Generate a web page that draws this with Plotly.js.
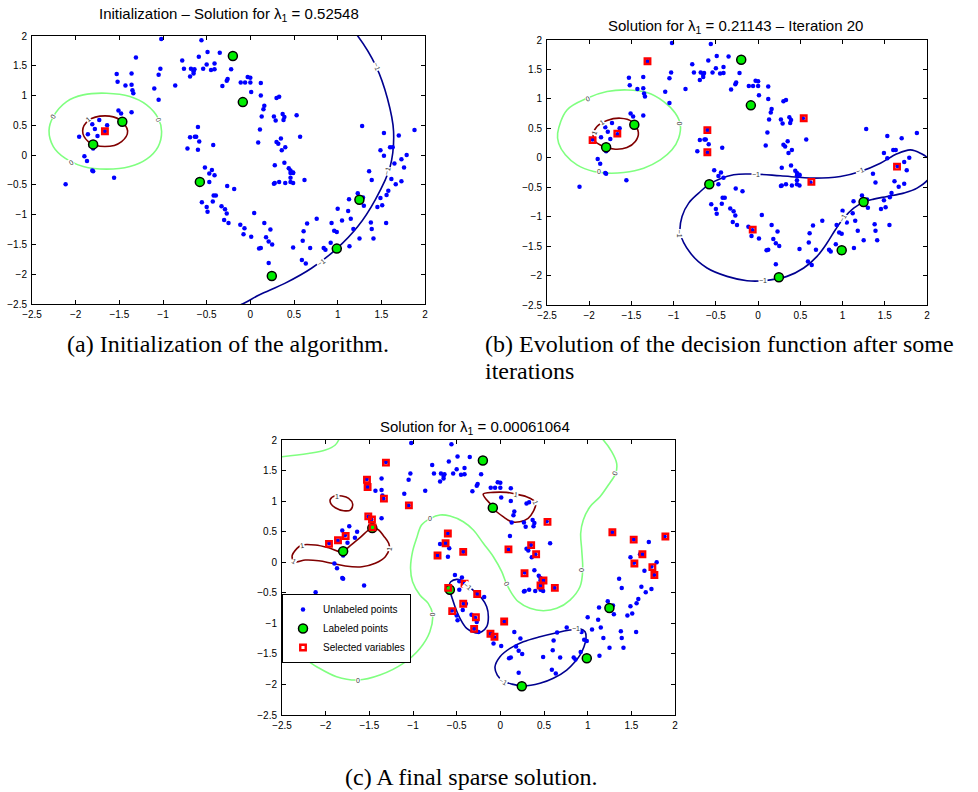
<!DOCTYPE html>
<html>
<head>
<meta charset="utf-8">
<script src="https://cdn.plot.ly/plotly-3.0.1.min.js"></script>
<style>html,body{margin:0;padding:0;background:#fff;}#chart{width:978px;height:792px;}</style>
</head>
<body>
<div id="chart"></div>
<script>
// ---------- data: unlabeled points (same data set in all three panels) ----------
const unlabX = [-1.02,-0.56,-1.31,-0.49,-0.35,-0.59,-0.78,-0.76,-1.03,-1.05,-1.53,-1.36,-1.52,-1.43,-1.36,-1.35,-1.34,-1.10,-1.05,-0.86,-0.68,-0.65,-0.64,-0.69,-0.65,-0.50,-0.41,-0.45,-0.41,-0.22,-0.26,-0.27,-0.32,-0.54,
-0.11,-0.06,-0.03,0.00,0.00,0.01,0.12,0.12,0.30,0.33,0.16,0.15,0.13,0.27,0.29,0.37,0.39,0.38,0.53,0.57,0.11,0.09,0.30,0.32,0.35,0.40,0.36,0.28,0.39,0.44,0.46,0.49,0.46,0.49,0.27,0.28,0.33,0.40,0.46,0.49,0.62,
-0.60,-0.69,-0.635,-0.62,-0.585,-0.72,-0.60,-0.425,-0.52,-0.44,-0.47,-0.41,-0.47,-0.265,-0.185,-0.555,-0.50,-0.49,-0.42,-0.395,-0.43,-0.33,-0.29,-0.27,-0.30,-0.25,-0.115,-0.067,-0.078,0.01,0.044,0.16,0.23,0.18,0.21,0.25,0.10,0.12,0.21,0.49,0.60,0.61,0.65,0.76,0.59,0.635,0.685,0.84,0.86,0.92,0.93,1.00,0.96,0.99,1.05,1.12,1.13,1.15,1.18,1.135,1.25,1.23,1.30,1.29,1.36,1.39,1.28,1.38,1.39,1.41,1.455,1.51,1.555,1.53,1.49,1.53,1.60,1.63,1.65,1.70,1.73,1.79,1.76,1.73,1.88,1.615,1.665,1.58,1.56,1.49,
-2.115,-1.96,-1.90,-1.87,-1.81,-1.80,-1.56,-1.81,-1.73,-1.78,-1.86,-1.75,-1.64,-1.80,-1.51,-1.48,-1.36,-1.665,-0.60,0.46];
const unlabY = [1.95,1.93,1.64,1.73,1.72,1.65,1.59,1.45,1.45,1.35,1.36,1.37,1.23,1.17,1.18,1.09,1.04,1.12,0.93,1.17,1.45,1.41,1.44,1.32,1.37,1.52,1.54,1.43,1.44,1.44,1.28,1.25,1.16,1.45,
1.22,1.22,1.31,1.30,1.22,1.06,1.21,1.00,0.96,0.98,0.83,0.77,0.65,0.65,0.58,0.69,0.64,0.59,0.67,0.31,0.43,0.21,0.22,0.19,0.28,0.13,0.08,-0.17,-0.13,-0.22,-0.26,-0.29,-0.30,-0.30,-0.48,-0.47,-0.45,-0.47,-0.45,-0.47,-0.42,
0.47,0.30,0.31,0.31,0.23,0.11,0.09,0.17,-0.21,-0.25,-0.31,-0.34,-0.45,-0.52,-0.57,-0.79,-0.87,-0.95,-0.68,-0.68,-0.78,-0.86,-0.91,-0.98,-1.09,-1.14,-1.17,-1.23,-1.33,-1.37,-0.97,-1.14,-1.25,-1.38,-1.45,-1.50,-1.57,-1.56,-1.81,-1.55,-1.44,-1.28,-1.15,-1.07,-1.76,-1.82,-1.56,-1.56,-1.59,-1.47,-1.14,-0.90,-1.27,-1.29,-1.10,-0.94,-0.74,-1.07,-1.24,-1.53,-1.40,-0.64,-0.85,-0.71,-0.27,-0.42,0.49,-1.13,-1.24,-1.40,-0.87,-0.84,-1.14,0.37,0.08,-0.01,0.13,0.13,-0.14,0.33,-0.07,0.00,-0.21,-0.44,0.42,-0.40,-0.49,-0.60,-0.67,-0.72,
-0.49,0.31,-0.02,-0.10,-0.26,-0.27,-0.38,0.52,0.59,0.44,0.35,0.32,0.50,0.11,0.75,0.70,0.72,0.40,-0.42,-0.38];

// labeled points
const labX = [-0.20,-0.086,-1.466,-1.80,-0.578,1.249,0.99,0.246];
const labY = [1.665,0.89,0.56,0.18,-0.45,-0.75,-1.57,-2.03];

// selected variables per panel
const selAX = [-1.665];
const selAY = [0.40];
const selBX = [-1.31,-1.96,-1.667,-0.601,-0.601,0.54,0.631,-0.064,1.645];
const selBY = [1.64,0.30,0.41,0.47,0.095,0.67,-0.41,-1.22,-0.15];
const selCX = [-1.31,-1.527,-1.52,-1.333,-1.047,-1.512,-1.47,-1.463,-1.771,-1.859,-1.962,-0.601,-0.627,-0.719,-0.425,-0.597,-0.41,-0.265,-0.425,-0.551,-0.28,-0.30,-0.113,-0.067,0.044,0.54,0.093,0.353,0.41,0.277,0.494,0.46,0.624,1.283,1.527,1.627,1.535,1.741,1.764,1.89];
const selCY = [1.63,1.35,1.23,1.04,0.93,0.75,0.70,0.57,0.43,0.36,0.30,0.47,0.31,0.11,0.17,-0.42,-0.35,-0.52,-0.68,-0.80,-0.90,-1.09,-1.17,-1.22,-0.97,0.66,0.21,0.28,0.13,-0.18,-0.30,-0.38,-0.42,0.49,0.37,0.13,-0.02,-0.08,-0.21,0.42];

// ---------- contour lines ----------
// panel (a)
const aZeroX = [-2.305,-2.256,-2.103,-1.913,-1.646,-1.379,-1.188,-1.055,-1.016,-1.055,-1.188,-1.379,-1.646,-1.913,-2.122,-2.256,-2.305];
const aZeroY = [0.413,0.647,0.899,1.011,1.039,0.983,0.843,0.619,0.396,0.144,-0.068,-0.191,-0.236,-0.191,-0.051,0.144,0.413];
const aOneX = [-1.92,-1.855,-1.665,-1.493,-1.405,-1.474,-1.665,-1.855,-1.92];
const aOneY = [0.407,0.58,0.658,0.591,0.407,0.228,0.144,0.228,0.407];
const aNegX = [1.106,1.23,1.44,1.57,1.64,1.60,1.43,1.23,0.99,0.70,0.40,0.10,-0.09,-0.285];
const aNegY = [2.2,2.0,1.49,0.95,0.40,-0.20,-0.75,-1.20,-1.57,-1.90,-2.15,-2.35,-2.50,-2.6];
// panel (b)
const bZeroX = [-2.374,-2.263,-2.026,-1.789,-1.553,-1.316,-1.118,-0.98,-0.921,-0.941,-1.02,-1.158,-1.355,-1.592,-1.789,-1.947,-2.145,-2.283,-2.362,-2.374];
const bZeroY = [0.417,0.813,1.011,1.124,1.152,1.107,0.954,0.756,0.558,0.332,0.135,-0.035,-0.176,-0.25,-0.261,-0.233,-0.12,0.05,0.248,0.417];
const bOneX = [-1.955,-1.908,-1.789,-1.631,-1.493,-1.418,-1.454,-1.553,-1.691,-1.829,-1.928,-1.955];
const bOneY = [0.389,0.530,0.632,0.672,0.615,0.429,0.276,0.174,0.146,0.191,0.276,0.389];
const bNegX = [-0.577,-0.289,-0.033,0.264,0.658,0.974,1.211,1.448,1.645,1.803,1.922,2.03,2.03,1.882,1.724,1.527,1.369,1.25,1.132,1.014,0.915,0.816,0.698,0.54,0.342,0.066,-0.131,-0.368,-0.605,-0.802,-0.921,-0.901,-0.822,-0.704,-0.577];
const bNegY = [-0.448,-0.289,-0.278,-0.306,-0.346,-0.318,-0.233,-0.092,0.067,0.135,0.078,-0.04,-0.33,-0.516,-0.6,-0.657,-0.702,-0.753,-0.855,-1.024,-1.222,-1.448,-1.674,-1.872,-2.014,-2.087,-2.087,-2.014,-1.872,-1.618,-1.279,-0.996,-0.77,-0.6,-0.448];
// panel (c)
const cZero1X = [-2.6,-2.5,-2.2,-2.004,-1.89,-1.851,-1.835];
const cZero1Y = [1.715,1.727,1.78,1.836,1.918,2.0,2.08];
const cZero2X = [-2.6,-2.5,-2.332,-2.103,-1.875,-1.630,-1.379,-1.112,-0.921,-0.807,-0.776,-0.826,-0.921,-1.005,-1.028,-1.005,-0.959,-0.902,-0.799,-0.691,-0.576,-0.424,-0.309,-0.195,-0.08,0.016,0.065,0.13,0.206,0.34,0.492,0.646,0.798,0.912,0.943,0.932,0.92,0.95,1.027,1.141,1.237,1.321,1.332,1.275,1.179,1.12];
const cZero2Y = [-1.29,-1.344,-1.492,-1.71,-1.873,-1.928,-1.846,-1.655,-1.41,-1.137,-0.848,-0.673,-0.537,-0.319,-0.1,0.172,0.391,0.609,0.718,0.773,0.756,0.663,0.527,0.309,0.09,-0.155,-0.335,-0.509,-0.646,-0.755,-0.794,-0.755,-0.619,-0.401,-0.139,0.2,0.473,0.691,0.908,1.072,1.264,1.454,1.618,1.809,2.0,2.08];
const cOne1X = [-1.947,-1.89,-1.813,-1.737,-1.691,-1.718,-1.794,-1.89,-1.939,-1.947];
const cOne1Y = [1.029,1.088,1.083,1.045,0.953,0.854,0.843,0.892,0.953,1.029];
const cOne2X = [-2.385,-2.328,-2.271,-2.119,-1.965,-1.813,-1.718,-1.603,-1.469,-1.393,-1.336,-1.278,-1.271,-1.317,-1.432,-1.584,-1.775,-1.927,-2.08,-2.233,-2.348,-2.385];
const cOne2Y = [0.09,0.227,0.281,0.281,0.237,0.172,0.27,0.407,0.56,0.527,0.429,0.309,0.227,0.09,-0.018,-0.074,-0.062,-0.018,0.025,0.036,0.008,0.09];
const cOne3X = [-0.196,-0.082,0.071,0.177,0.299,0.376,0.406,0.376,0.318,0.223,0.128,0.032,-0.063,-0.12,-0.177,-0.196];
const cOne3Y = [1.116,1.143,1.143,1.116,1.073,1.018,0.963,0.827,0.718,0.663,0.663,0.745,0.854,0.963,1.056,1.116];
const cNeg1X = [-0.584,-0.568,-0.5,-0.424,-0.367,-0.29,-0.213,-0.156,-0.137,-0.156,-0.213,-0.29,-0.385,-0.462,-0.519,-0.557,-0.584,-0.584];
const cNeg1Y = [-0.373,-0.319,-0.28,-0.308,-0.39,-0.483,-0.591,-0.728,-0.892,-1.055,-1.137,-1.153,-1.082,-0.918,-0.728,-0.564,-0.444,-0.373];
const cNeg2X = [-0.061,-0.004,0.111,0.263,0.454,0.646,0.798,0.912,0.97,0.981,0.958,0.912,0.855,0.76,0.607,0.454,0.263,0.13,0.034,-0.035,-0.061];
const cNeg2Y = [-1.71,-1.546,-1.409,-1.301,-1.219,-1.153,-1.11,-1.088,-1.137,-1.246,-1.382,-1.519,-1.628,-1.764,-1.9,-1.982,-2.026,-1.993,-1.944,-1.846,-1.71];

// contour level labels
const aLabX = [-2.26,-1.05,-2.05,-1.86,1.45,1.57,0.81];
const aLabY = [0.65,0.60,-0.12,0.60,1.49,-0.26,-1.80];
const aLabT = ['0','0','0','1','-1','-1','-1'];
const aLabA = [-60,70,-30,-40,70,-75,-35];
const bLabX = [-2.01,-0.93,-1.88,-1.85,-1.94,-0.03,1.21,1.01,0.06,-0.93];
const bLabY = [1.00,0.59,-0.24,0.60,0.43,-0.29,-0.22,-1.02,-2.09,-1.28];
const bLabT = ['0','0','0','1','1','-1','-1','-1','-1','-1'];
const bLabA = [-20,90,0,-30,-70,0,-20,-60,0,90];
const cLabX = [-0.80,1.31,0.936,0.071,-0.776,-1.63,-1.875,-2.27,-2.36,-1.27,0.177,0.40,-0.37,0.87,0.03];
const cLabY = [0.718,1.454,-0.128,-0.346,-0.848,-1.928,1.083,0.28,0.01,0.227,1.116,0.97,-0.39,-1.09,-1.955];
const cLabT = ['0','0','0','0','0','0','1','1','1','1','1','1','-1','-1','-1'];
const cLabA = [0,-70,90,60,90,0,0,-10,30,-80,10,70,40,0,30];

// ticks
const tickVals = [-2.5,-2,-1.5,-1,-0.5,0,0.5,1,1.5,2];
const tickText = ['\u22122.5','\u22122','\u22121.5','\u22121','\u22120.5','0','0.5','1','1.5','2'];

// titles & captions
const titles = ['Initialization \u2013 Solution for \u03bb<sub>1</sub> = 0.52548',
                'Solution for \u03bb<sub>1</sub> = 0.21143 \u2013 Iteration 20',
                'Solution for \u03bb<sub>1</sub> = 0.00061064'];
const captions = ['(a) Initialization of the algorithm.',
                  '(b) Evolution of the decision function after some',
                  'iterations',
                  '(c) A final sparse solution.'];
const legendNames = ['Unlabeled points','Labeled points','Selected variables'];

// ---------- styling ----------
const SANS = 'Liberation Sans, Arial, Helvetica, sans-serif';
const SERIF = 'Liberation Serif, Times New Roman, serif';
const COL_NEG = 'rgb(0,0,143)', COL_ZERO = 'rgb(128,255,128)', COL_ONE = 'rgb(128,0,0)';
const W = 978, H = 792;

const traces = [];
function contour(xs, ys, color, xa, ya) {
  traces.push({type:'scatter', mode:'lines', x:xs, y:ys, xaxis:xa, yaxis:ya,
    line:{color:color, width:1.6, shape:'spline', smoothing:1}, showlegend:false, hoverinfo:'skip'});
}
function points(xa, ya, selX, selY, legend) {
  traces.push({type:'scatter', mode:'markers', x:unlabX, y:unlabY, xaxis:xa, yaxis:ya, name:legendNames[0],
    marker:{color:'#0000ff', size:4.5, symbol:'circle'}, showlegend:legend});
  traces.push({type:'scatter', mode:'markers', x:labX, y:labY, xaxis:xa, yaxis:ya, name:legendNames[1],
    marker:{color:'#00ee00', size:9, symbol:'circle', line:{color:'black', width:1.5}}, showlegend:legend});
  traces.push({type:'scatter', mode:'markers', x:selX, y:selY, xaxis:xa, yaxis:ya, name:legendNames[2],
    marker:{color:'#ff0000', size:5.5, symbol:'square-open', line:{color:'#ff0000', width:2.4}}, showlegend:legend});
}

// panel a
contour(aZeroX, aZeroY, COL_ZERO, 'x', 'y');
contour(aOneX, aOneY, COL_ONE, 'x', 'y');
contour(aNegX, aNegY, COL_NEG, 'x', 'y');
points('x', 'y', selAX, selAY, false);
// panel b
contour(bZeroX, bZeroY, COL_ZERO, 'x2', 'y2');
contour(bOneX, bOneY, COL_ONE, 'x2', 'y2');
contour(bNegX, bNegY, COL_NEG, 'x2', 'y2');
points('x2', 'y2', selBX, selBY, false);
// panel c
contour(cZero1X, cZero1Y, COL_ZERO, 'x3', 'y3');
contour(cZero2X, cZero2Y, COL_ZERO, 'x3', 'y3');
contour(cOne1X, cOne1Y, COL_ONE, 'x3', 'y3');
contour(cOne2X, cOne2Y, COL_ONE, 'x3', 'y3');
contour(cOne3X, cOne3Y, COL_ONE, 'x3', 'y3');
contour(cNeg1X, cNeg1Y, COL_NEG, 'x3', 'y3');
contour(cNeg2X, cNeg2Y, COL_NEG, 'x3', 'y3');
points('x3', 'y3', selCX, selCY, true);

function axis(d0, d1, anchor, horizontal) {
  return {domain:[d0, d1], anchor:anchor, range:[-2.5, 2], tickmode:'array', tickvals:tickVals, ticktext:tickText,
    ticks:'inside', ticklen:4, tickwidth:1, tickcolor:'black', showline:true, linecolor:'black', linewidth:1,
    mirror:'ticks', showgrid:false, zeroline:false, fixedrange:true,
    tickfont:{family:SANS, size:10, color:'black'}, ticklabelstandoff: horizontal ? 1 : 2};
}
// pixel boxes of the three plot areas
const boxes = [[32,425,36,304],[547,927,40,305],[282,675,440,715]];
const layout = {width:W, height:H, margin:{l:0,r:0,t:0,b:0}, paper_bgcolor:'white', plot_bgcolor:'white',
  showlegend:true, font:{family:SANS, color:'black'},
  legend:{x:282/W, y:1-594/H, xanchor:'left', yanchor:'top', bgcolor:'white', bordercolor:'black', borderwidth:1,
          font:{family:SANS, size:10, color:'black'}, tracegroupgap:0, itemwidth:30},
  annotations:[]};
const ids = [['xaxis','yaxis','x','y'],['xaxis2','yaxis2','x2','y2'],['xaxis3','yaxis3','x3','y3']];
boxes.forEach((b, i) => {
  layout[ids[i][0]] = axis(b[0]/W, b[1]/W, ids[i][3], true);
  layout[ids[i][1]] = axis(1-b[3]/H, 1-b[2]/H, ids[i][2], false);
});
// titles
const titlePos = [[229,15],[735,27],[475,427]];
titles.forEach((t, i) => layout.annotations.push({text:t, xref:'paper', yref:'paper', x:titlePos[i][0]/W, y:1-titlePos[i][1]/H,
  xanchor:'center', yanchor:'middle', showarrow:false, font:{family:SANS, size:15, color:'black'}}));
// captions
const capPos = [[228,344,'center'],[483,344,'left'],[483,371,'left'],[471,777,'center']];
captions.forEach((t, i) => layout.annotations.push({text:t, xref:'paper', yref:'paper', x:capPos[i][0]/W, y:1-capPos[i][1]/H,
  xanchor:capPos[i][2], yanchor:'middle', showarrow:false, font:{family:SERIF, size:24, color:'black'}}));
// contour labels
function labels(xs, ys, ts, as, xa, ya) {
  xs.forEach((x, k) => layout.annotations.push({text:ts[k].replace('-', '\u2212'), x:x, y:ys[k], xref:xa, yref:ya, showarrow:false,
    textangle:as[k], bgcolor:'white', borderpad:0, font:{family:SANS, size:7, color:'#333'}}));
}
labels(aLabX, aLabY, aLabT, aLabA, 'x', 'y');
labels(bLabX, bLabY, bLabT, bLabA, 'x2', 'y2');
labels(cLabX, cLabY, cLabT, cLabA, 'x3', 'y3');

Plotly.newPlot('chart', traces, layout, {displayModeBar:false, staticPlot:true});
</script>
</body>
</html>
